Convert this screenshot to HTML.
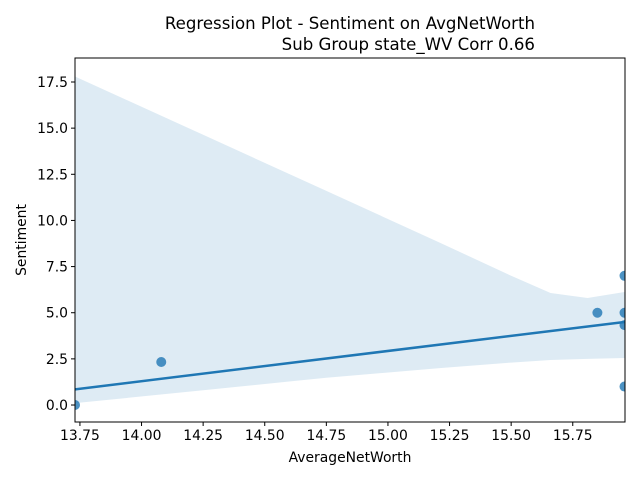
<!DOCTYPE html>
<html><head><meta charset="utf-8"><style>
body{margin:0;background:#fff;font-family:"Liberation Sans","DejaVu Sans",sans-serif}
</style></head><body>
<svg id="c" width="640" height="480" xmlns="http://www.w3.org/2000/svg" font-family="DejaVu Sans, Liberation Sans, sans-serif"></svg>
<script>
const xTicks=[13.75,14.00,14.25,14.50,14.75,15.00,15.25,15.50,15.75];
const yTicks=[0,2.5,5,7.5,10,12.5,15,17.5];
const pointX=[13.73,14.08,15.85,15.96,15.96,15.96,15.96];
const pointY=[0,2.33,5,7,5,4.33,1];
const lineX=[13.73,15.96];
const lineY=[0.85,4.5];
const bandX=[13.73,14.25,14.75,15.21,15.5,15.66,15.81,15.96];
const bandUpper=[17.8,14.64,11.6,8.8,7.0,6.07,5.8,6.12];
const bandLower=[0.1,0.8,1.48,2.0,2.3,2.44,2.5,2.55];
const L=75,R=625,T=58,B=422;
const xMin=13.73,xMax=15.962,yMin=-0.92,yMax=18.8;
const sx=v=>L+(v-xMin)/(xMax-xMin)*(R-L);
const sy=v=>B-(v-yMin)/(yMax-yMin)*(B-T);
const svg=document.getElementById('c');const NS='http://www.w3.org/2000/svg';
function mk(t,a,p){const e=document.createElementNS(NS,t);for(const k in a)e.setAttribute(k,a[k]);(p||svg).appendChild(e);return e;}
const clip=mk('clipPath',{id:'cl'});mk('rect',{x:L,y:T,width:R-L,height:B-T},clip);
const g=mk('g',{'clip-path':'url(#cl)'});
let d='M'+bandX.map((x,i)=>sx(x)+','+sy(bandUpper[i])).join('L');
d+='L'+bandX.slice().reverse().map((x,i)=>sx(x)+','+sy(bandLower[bandX.length-1-i])).join('L')+'Z';
const band=mk('path',{d:d,fill:'#1f77b4','fill-opacity':0.15},g);


pointX.forEach((x,i)=>{const c=mk('circle',{cx:sx(x),cy:sy(pointY[i]),r:5,fill:'#1f77b4','fill-opacity':0.8},g);

});
const ln=mk('line',{x1:sx(lineX[0]),y1:sy(lineY[0]),x2:sx(lineX[1]),y2:sy(lineY[1]),stroke:'#1f77b4','stroke-width':2.5},g);


const fr=mk('rect',{x:L,y:T,width:R-L,height:B-T,fill:'none',stroke:'#000','stroke-width':1});


xTicks.forEach(v=>{const x=sx(v);mk('line',{x1:x,y1:B,x2:x,y2:B+4,stroke:'#000'});
const t=mk('text',{x:x,y:B+18,'font-size':13.9,'text-anchor':'middle'});t.textContent=v.toFixed(2);

});
yTicks.forEach(v=>{const y=sy(v);mk('line',{x1:L-4,y1:y,x2:L,y2:y,stroke:'#000'});
const t=mk('text',{x:L-7,y:y+5,'font-size':13.9,'text-anchor':'end'});t.textContent=v.toFixed(1);

});
const xt=mk('text',{x:350,y:462,'font-size':13.9,'text-anchor':'middle'});xt.textContent='AverageNetWorth';


const yt=mk('text',{x:0,y:0,'font-size':13.9,'text-anchor':'middle',transform:'translate(26,240) rotate(-90)'});yt.textContent='Sentiment';


const t1=mk('text',{x:535,y:29,'font-size':16.6,'text-anchor':'end'});t1.textContent='Regression Plot - Sentiment on AvgNetWorth';


const t2=mk('text',{x:535,y:50,'font-size':16.6,'text-anchor':'end'});t2.textContent='Sub Group state_WV Corr 0.66';


</script>
</body></html>
